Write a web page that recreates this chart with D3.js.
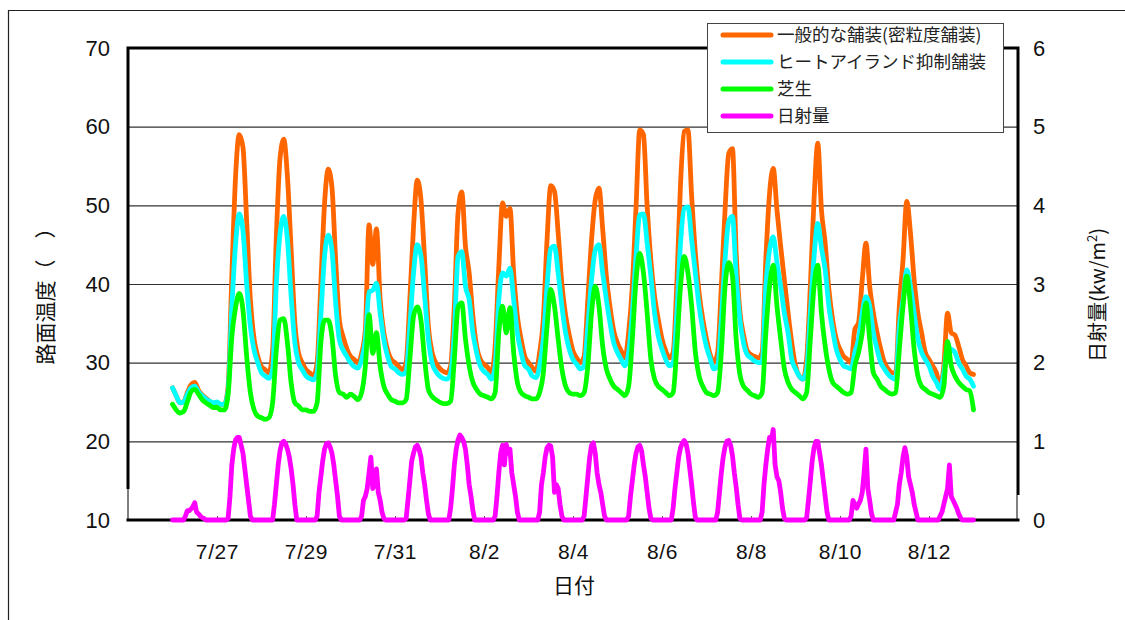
<!DOCTYPE html>
<html>
<head>
<meta charset="utf-8">
<script src="https://cdn.jsdelivr.net/npm/d3@7"></script>
<style>
  body { margin: 0; background: #fff; }
  svg { display: block; }
</style>
</head>
<body>
<script>
// first reading 7/26 00:00, temperatures every 2 h, radiation every 1 h
const firstDay = new Date(2008, 6, 26);
const tempStepHours = 2;
const solarStepHours = 1;

const tickLabels = ['7/27', '7/29', '7/31', '8/2', '8/4', '8/6', '8/8', '8/10', '8/12'];

const seriesNames = ['一般的な舗装(密粒度舗装)', 'ヒートアイランド抑制舗装', '芝生', '日射量'];
const seriesColors = ['#ff6600', '#00ffff', '#00ff00', '#ff00ff'];

// 一般的な舗装 (one row per day, 0h..22h)
const asphaltTemp = [
  [26.8, 25.8, 24.9, 25.0, 26.2, 27.2, 27.5, 26.5, 25.9, 25.5, 25.1, 24.8],
  [24.9, 24.7, 24.7, 27.0, 41.0, 53.6, 59.0, 57.4, 48.0, 38.0, 33.0, 30.8],
  [29.5, 29.1, 28.7, 31.6, 46.0, 56.0, 58.4, 53.6, 44.3, 35.0, 31.2, 30.0],
  [29.1, 28.7, 28.3, 30.0, 40.0, 50.2, 54.6, 52.3, 43.0, 35.4, 33.3, 31.8],
  [30.8, 30.4, 30.0, 31.2, 34.2, 47.5, 42.5, 47.0, 38.0, 33.8, 31.6, 30.4],
  [30.0, 29.5, 29.1, 30.0, 38.0, 47.3, 53.2, 50.7, 43.0, 34.6, 31.3, 30.0],
  [29.3, 28.9, 28.7, 29.6, 37.2, 49.0, 51.7, 44.8, 41.4, 35.9, 32.1, 30.4],
  [29.8, 29.4, 28.7, 32.1, 42.2, 50.3, 48.6, 49.6, 41.4, 35.9, 33.0, 30.8],
  [30.0, 29.4, 28.9, 31.3, 35.5, 45.6, 52.5, 51.8, 46.5, 40.0, 36.0, 33.5],
  [31.5, 30.6, 30.0, 30.8, 38.0, 45.6, 50.7, 52.2, 47.0, 41.0, 37.0, 34.0],
  [32.5, 31.5, 30.6, 33.8, 39.7, 49.8, 59.6, 59.0, 49.8, 43.0, 38.4, 35.5],
  [33.0, 31.5, 30.6, 31.3, 40.1, 52.8, 59.4, 59.6, 51.1, 43.9, 38.9, 35.5],
  [33.0, 31.0, 30.0, 31.3, 39.7, 49.4, 56.6, 57.2, 44.0, 36.5, 33.5, 31.5],
  [31.0, 30.8, 30.6, 31.3, 43.1, 51.5, 54.7, 49.4, 44.8, 40.5, 36.3, 32.5],
  [29.6, 28.3, 27.9, 30.4, 39.7, 50.7, 57.9, 49.4, 45.2, 39.3, 35.5, 33.0],
  [31.7, 30.8, 30.4, 30.0, 34.2, 35.1, 40.5, 45.2, 39.7, 36.3, 33.8, 31.7],
  [30.0, 29.2, 28.7, 28.7, 37.2, 43.1, 50.5, 46.5, 40.5, 36.3, 33.8, 31.3],
  [30.4, 29.6, 28.7, 27.0, 29.6, 36.3, 33.8, 33.5, 32.1, 30.4, 29.6, 28.7],
  [28.5]
];

// ヒートアイランド抑制舗装
const coolPaveTemp = [
  [26.8, 25.8, 24.9, 25.0, 26.0, 26.8, 27.0, 26.3, 25.8, 25.4, 25.1, 24.9],
  [25.0, 24.7, 24.7, 26.5, 37.0, 45.0, 48.9, 46.8, 40.0, 34.6, 31.6, 30.0],
  [28.7, 28.3, 28.0, 29.1, 40.0, 46.4, 48.6, 45.6, 38.4, 32.5, 30.0, 29.1],
  [28.3, 28.0, 27.8, 28.7, 35.9, 43.5, 46.2, 44.3, 37.6, 32.9, 31.6, 30.8],
  [30.0, 29.5, 29.3, 30.4, 32.9, 39.0, 39.2, 40.1, 36.3, 32.9, 30.8, 29.5],
  [29.2, 28.7, 28.5, 28.9, 34.6, 41.4, 45.0, 43.6, 38.4, 33.0, 30.0, 28.9],
  [28.3, 28.0, 27.9, 28.7, 33.8, 43.5, 44.1, 39.7, 38.0, 33.8, 31.3, 29.6],
  [28.9, 28.5, 27.9, 29.6, 38.0, 41.4, 41.0, 42.0, 38.0, 33.8, 31.3, 29.6],
  [29.2, 28.3, 28.1, 29.6, 33.0, 39.7, 44.5, 44.8, 41.4, 37.2, 33.8, 31.7],
  [30.4, 29.8, 29.2, 29.6, 34.6, 40.5, 44.3, 45.0, 41.4, 38.0, 35.0, 32.5],
  [31.3, 30.4, 29.6, 31.3, 36.3, 43.5, 48.8, 48.9, 45.2, 41.0, 36.3, 33.4],
  [31.7, 30.4, 29.6, 30.0, 36.3, 45.2, 49.6, 49.8, 45.6, 41.4, 37.2, 34.2],
  [32.0, 30.5, 29.2, 29.6, 35.5, 43.1, 48.0, 48.6, 41.0, 35.5, 32.5, 31.0],
  [30.6, 30.2, 30.0, 30.0, 39.7, 44.3, 46.0, 42.7, 39.7, 36.3, 33.8, 30.4],
  [29.2, 28.3, 27.9, 29.2, 36.3, 43.5, 47.7, 44.6, 41.8, 37.2, 34.2, 31.7],
  [30.4, 29.6, 29.4, 29.2, 31.3, 33.0, 36.3, 38.4, 37.2, 33.8, 31.7, 30.0],
  [29.2, 28.5, 28.1, 27.9, 34.6, 38.0, 41.8, 39.7, 36.3, 33.0, 31.3, 30.4],
  [29.6, 28.3, 27.5, 26.6, 28.7, 32.0, 31.7, 31.3, 30.0, 29.2, 28.3, 27.9],
  [27.0]
];

// 芝生
const lawnTemp = [
  [24.7, 24.0, 23.6, 23.8, 25.0, 26.3, 26.6, 26.0, 25.3, 24.9, 24.6, 24.3],
  [24.3, 24.0, 24.0, 26.0, 33.3, 37.0, 38.8, 36.7, 30.8, 26.2, 24.0, 23.2],
  [23.0, 22.8, 23.0, 24.9, 31.6, 35.4, 35.6, 32.5, 27.4, 24.9, 24.5, 24.0],
  [24.0, 23.8, 23.8, 24.9, 32.5, 35.4, 35.4, 33.3, 28.3, 26.2, 26.0, 25.6],
  [26.0, 25.7, 25.3, 26.2, 29.5, 36.1, 31.2, 33.8, 29.5, 27.0, 26.0, 25.3],
  [25.1, 24.9, 24.9, 25.3, 30.4, 35.9, 37.1, 35.4, 30.4, 26.6, 25.7, 25.3],
  [25.0, 24.8, 24.8, 25.1, 30.4, 37.1, 37.6, 33.0, 29.6, 27.5, 26.6, 26.0],
  [25.8, 25.6, 25.4, 26.2, 33.8, 37.2, 33.8, 37.0, 31.3, 27.5, 26.2, 25.8],
  [25.6, 25.4, 25.4, 26.2, 28.7, 34.6, 39.3, 37.2, 33.0, 29.2, 27.0, 26.2],
  [26.0, 26.0, 25.8, 26.2, 29.6, 36.3, 39.7, 37.2, 32.1, 29.2, 27.9, 27.0],
  [26.6, 26.2, 25.8, 27.0, 33.0, 40.5, 43.9, 41.4, 36.3, 30.4, 27.9, 27.0],
  [26.6, 26.2, 25.8, 26.2, 32.1, 39.7, 43.5, 41.4, 37.2, 31.3, 28.3, 27.0],
  [26.2, 26.0, 25.8, 26.2, 31.3, 39.7, 42.7, 41.0, 33.0, 28.5, 27.0, 26.5],
  [26.0, 25.8, 25.6, 26.2, 33.8, 39.7, 42.4, 37.2, 33.0, 29.2, 27.5, 26.6],
  [26.2, 25.8, 25.4, 26.2, 33.0, 39.7, 42.4, 36.3, 32.1, 29.2, 27.5, 27.0],
  [26.6, 26.2, 26.0, 26.2, 29.6, 31.3, 33.8, 37.6, 33.0, 28.7, 27.9, 27.0],
  [26.6, 26.2, 26.0, 26.2, 31.7, 37.2, 41.0, 37.2, 31.7, 28.3, 27.0, 26.6],
  [26.2, 26.0, 25.8, 25.6, 27.0, 32.7, 29.6, 28.3, 27.5, 27.0, 26.6, 26.4],
  [24.0]
];

// 日射量 kw/m2 (one row per day, 0h..23h)
const solar = [
  [0, 0, 0, 0, 0, 0, 0, 0.05, 0.12, 0.12, 0.14, 0.17, 0.22, 0.10, 0.08, 0.05, 0.03, 0.02, 0, 0, 0, 0, 0, 0],
  [0, 0, 0, 0, 0, 0, 0.02, 0.30, 0.70, 0.90, 1.02, 1.05, 1.05, 0.95, 0.85, 0.65, 0.45, 0.25, 0.05, 0, 0, 0, 0, 0],
  [0, 0, 0, 0, 0, 0, 0, 0.20, 0.45, 0.70, 0.88, 0.98, 1.00, 0.97, 0.90, 0.80, 0.65, 0.45, 0.20, 0, 0, 0, 0, 0],
  [0, 0, 0, 0, 0, 0, 0.05, 0.35, 0.55, 0.75, 0.90, 0.97, 0.98, 0.93, 0.85, 0.70, 0.50, 0.30, 0.05, 0, 0, 0, 0, 0],
  [0, 0, 0, 0, 0, 0, 0.05, 0.25, 0.30, 0.40, 0.60, 0.80, 0.40, 0.45, 0.65, 0.35, 0.25, 0.10, 0.02, 0, 0, 0, 0, 0],
  [0, 0, 0, 0, 0, 0, 0.02, 0.25, 0.50, 0.75, 0.85, 0.93, 0.95, 0.90, 0.80, 0.60, 0.45, 0.25, 0.08, 0, 0, 0, 0, 0],
  [0, 0, 0, 0, 0, 0, 0.15, 0.40, 0.70, 0.90, 1.02, 1.08, 1.05, 1.00, 0.90, 0.70, 0.45, 0.30, 0.12, 0, 0, 0, 0, 0],
  [0, 0, 0, 0, 0, 0, 0.05, 0.30, 0.60, 0.85, 0.95, 0.70, 0.96, 0.85, 0.90, 0.60, 0.45, 0.30, 0.10, 0, 0, 0, 0, 0],
  [0, 0, 0, 0, 0, 0, 0.10, 0.45, 0.60, 0.80, 0.92, 0.95, 0.94, 0.80, 0.35, 0.45, 0.40, 0.20, 0.05, 0, 0, 0, 0, 0],
  [0, 0, 0, 0, 0, 0, 0.05, 0.30, 0.55, 0.80, 0.95, 0.98, 0.85, 0.60, 0.45, 0.35, 0.20, 0.05, 0, 0, 0, 0, 0, 0],
  [0, 0, 0, 0, 0, 0, 0.05, 0.30, 0.50, 0.70, 0.85, 0.93, 0.95, 0.88, 0.70, 0.55, 0.35, 0.15, 0.02, 0, 0, 0, 0, 0],
  [0, 0, 0, 0, 0, 0, 0.15, 0.40, 0.60, 0.80, 0.92, 0.98, 1.01, 0.97, 0.85, 0.65, 0.45, 0.22, 0.03, 0, 0, 0, 0, 0],
  [0, 0, 0, 0, 0, 0, 0.10, 0.35, 0.60, 0.80, 0.93, 1.00, 1.01, 0.95, 0.82, 0.60, 0.42, 0.20, 0.02, 0, 0, 0, 0, 0],
  [0, 0, 0, 0, 0, 0, 0.10, 0.45, 0.70, 0.90, 1.05, 1.02, 1.15, 0.70, 0.55, 0.50, 0.35, 0.15, 0.02, 0, 0, 0, 0, 0],
  [0, 0, 0, 0, 0, 0, 0.03, 0.25, 0.50, 0.75, 0.92, 1.00, 1.00, 0.85, 0.70, 0.50, 0.30, 0.10, 0, 0, 0, 0, 0, 0],
  [0, 0, 0, 0, 0, 0, 0.05, 0.25, 0.20, 0.15, 0.20, 0.25, 0.35, 0.60, 0.90, 0.40, 0.25, 0.08, 0, 0, 0, 0, 0, 0],
  [0, 0, 0, 0, 0, 0, 0.10, 0.20, 0.45, 0.60, 0.80, 0.92, 0.80, 0.55, 0.45, 0.35, 0.20, 0.10, 0, 0, 0, 0, 0, 0],
  [0, 0, 0, 0, 0, 0, 0.05, 0.10, 0.20, 0.30, 0.40, 0.70, 0.30, 0.25, 0.20, 0.15, 0.08, 0.03, 0, 0, 0, 0, 0, 0],
  [0]
];

const width = 1125, height = 620;
const margin = { left: 128, right: 1018, top: 48, bottom: 520 };
const numFont = '"Liberation Sans", Arial, sans-serif';
const jpFont = '"Noto Sans CJK JP", "Noto Sans", sans-serif';

function toPoints(rows, stepHours) {
  return rows.flat().map((v, i) => ({ t: d3.timeHour.offset(firstDay, i * stepHours), v: v }));
}

const svg = d3.select('body').append('svg')
  .attr('width', width)
  .attr('height', height);

// outer frame of the figure
svg.append('path')
  .attr('d', 'M8.5,620 V10.5 H1125')
  .attr('fill', 'none')
  .attr('stroke', '#222')
  .attr('stroke-width', 1.2);

const x = d3.scaleTime()
  .domain([new Date(2008, 6, 25), new Date(2008, 7, 14)])
  .range([margin.left, margin.right]);
const yTemp = d3.scaleLinear().domain([10, 70]).range([margin.bottom, margin.top]);
const ySolar = d3.scaleLinear().domain([0, 6]).range([margin.bottom, margin.top]);

// grid
svg.append('g')
  .selectAll('line')
  .data([20, 30, 40, 50, 60])
  .enter()
  .append('line')
  .attr('x1', margin.left)
  .attr('x2', margin.right)
  .attr('y1', d => yTemp(d) + 0.5)
  .attr('y2', d => yTemp(d) + 0.5)
  .attr('stroke', '#333')
  .attr('stroke-width', 1.2);

// axes
const tickDates = tickLabels.map(s => {
  const [m, d] = s.split('/').map(Number);
  return new Date(2008, m - 1, d);
});

const xAxis = svg.append('g')
  .attr('transform', `translate(0,${margin.bottom})`)
  .call(d3.axisBottom(x)
    .tickValues(tickDates)
    .tickFormat((d, i) => tickLabels[i])
    .tickSize(-4)
    .tickPadding(24));
xAxis.select('.domain').remove();
xAxis.selectAll('line').attr('stroke', '#555');
xAxis.selectAll('text')
  .attr('font-family', numFont)
  .attr('font-size', 21)
  .attr('letter-spacing', 0.6)
  .attr('fill', '#111');

const yAxisLeft = svg.append('g')
  .attr('transform', `translate(${margin.left},0)`)
  .call(d3.axisLeft(yTemp).tickValues([10, 20, 30, 40, 50, 60, 70]).tickSize(0).tickPadding(18));
yAxisLeft.select('.domain').remove();
yAxisLeft.selectAll('text')
  .attr('font-family', numFont)
  .attr('font-size', 22)
  .attr('fill', '#111');

const yAxisRight = svg.append('g')
  .attr('transform', `translate(${margin.right},0)`)
  .call(d3.axisRight(ySolar)
    .tickValues([0, 1, 2, 3, 4, 5, 6])
    .tickFormat(d3.format('d'))
    .tickSize(0)
    .tickPadding(15));
yAxisRight.select('.domain').remove();
yAxisRight.selectAll('text')
  .attr('font-family', numFont)
  .attr('font-size', 22)
  .attr('fill', '#111');

// plot frame
svg.append('path')
  .attr('d', `M${margin.left},489 V${margin.top} H${margin.right} V495`)
  .attr('fill', 'none')
  .attr('stroke', '#000')
  .attr('stroke-width', 3);
svg.append('path')
  .attr('d', `M${margin.left},489 V${margin.bottom} M${margin.right - 1},495 V${margin.bottom}`)
  .attr('fill', 'none')
  .attr('stroke', '#000')
  .attr('stroke-width', 1);
svg.append('line')
  .attr('x1', margin.left - 1.5)
  .attr('x2', margin.right + 1.5)
  .attr('y1', margin.bottom)
  .attr('y2', margin.bottom)
  .attr('stroke', '#000')
  .attr('stroke-width', 3);

// series
const tempLine = d3.line()
  .x(d => x(d.t))
  .y(d => yTemp(d.v))
  .curve(d3.curveMonotoneX);
const solarLine = d3.line()
  .x(d => x(d.t))
  .y(d => ySolar(d.v));

const tempSeries = [asphaltTemp, coolPaveTemp, lawnTemp];
tempSeries.forEach((rows, i) => {
  svg.append('path')
    .datum(toPoints(rows, tempStepHours))
    .attr('d', tempLine)
    .attr('fill', 'none')
    .attr('stroke', seriesColors[i])
    .attr('stroke-width', 4.8)
    .attr('stroke-linejoin', 'round')
    .attr('stroke-linecap', 'round');
});

svg.append('path')
  .datum(toPoints(solar, solarStepHours))
  .attr('d', solarLine)
  .attr('fill', 'none')
  .attr('stroke', seriesColors[3])
  .attr('stroke-width', 4.8)
  .attr('stroke-linejoin', 'round')
  .attr('stroke-linecap', 'round');

// axis titles
svg.append('text')
  .attr('transform', 'translate(53,291) rotate(-90)')
  .attr('text-anchor', 'middle')
  .attr('font-family', jpFont)
  .attr('font-size', 21)
  .attr('fill', '#111')
  .text('路面温度（　）');

const rightTitle = svg.append('text')
  .attr('transform', 'translate(1105,295) rotate(-90)')
  .attr('text-anchor', 'middle')
  .attr('font-family', jpFont)
  .attr('font-size', 20)
  .attr('fill', '#111');
rightTitle.append('tspan').text('日射量(kw/m');
rightTitle.append('tspan').attr('dy', -8).attr('font-size', 13).text('2');
rightTitle.append('tspan').attr('dy', 8).text(')');

svg.append('text')
  .attr('x', 574)
  .attr('y', 593)
  .attr('text-anchor', 'middle')
  .attr('font-family', jpFont)
  .attr('font-size', 21)
  .attr('fill', '#111')
  .text('日付');

// legend
const legend = svg.append('g').attr('transform', 'translate(707,23)');
legend.append('rect')
  .attr('x', 0.5)
  .attr('y', 0.5)
  .attr('width', 296)
  .attr('height', 109)
  .attr('fill', '#fff')
  .attr('stroke', '#444')
  .attr('stroke-width', 1);

const items = legend.selectAll('g.item')
  .data(seriesNames)
  .enter()
  .append('g')
  .attr('class', 'item')
  .attr('transform', (d, i) => `translate(0,${12 + i * 27})`);
items.append('line')
  .attr('x1', 16)
  .attr('x2', 64)
  .attr('stroke', (d, i) => seriesColors[i])
  .attr('stroke-width', 5)
  .attr('stroke-linecap', 'round');
items.append('text')
  .attr('x', 70)
  .attr('dy', '0.36em')
  .attr('font-family', jpFont)
  .attr('font-size', 17.5)
  .attr('fill', '#222')
  .text(d => d);
</script>
</body>
</html>
